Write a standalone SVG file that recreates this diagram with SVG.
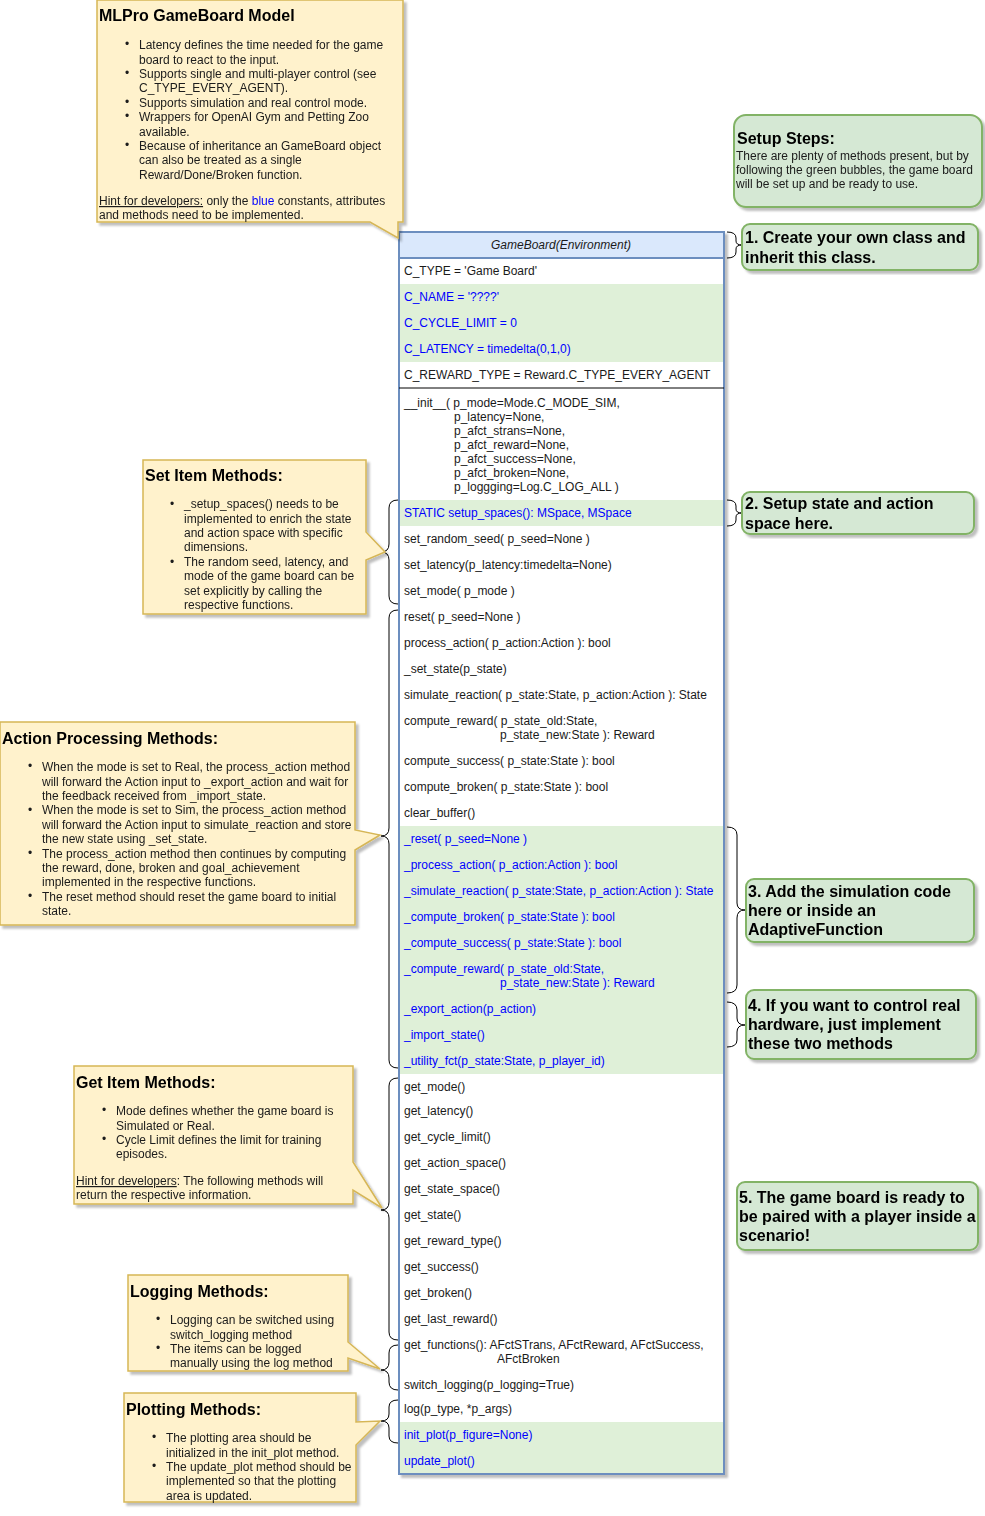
<svg xmlns="http://www.w3.org/2000/svg" width="985" height="1516" viewBox="0 0 985 1516">
<style>
text{font-family:"Liberation Sans",Arial,sans-serif;fill:#1a1a1a}
.m{font-size:12px}
.b{fill:#0000ff}
.n{font-size:12px;fill:#333}
.t{font-size:16px;font-weight:bold;fill:#000}
.s{font-size:16px;font-weight:bold;fill:#000}
.note{fill:#fff2cc;stroke:#d6b656;stroke-width:1.5}
.step{fill:#d5e8d4;stroke:#82b366;stroke-width:2}
.br{fill:none;stroke:#000;stroke-width:1}
.g{fill:#dff0d8}
</style>
<defs>
<filter id="sh" x="-5%" y="-5%" width="115%" height="115%"><feDropShadow dx="3" dy="3" stdDeviation="1.2" flood-color="#000" flood-opacity="0.25"/></filter>
</defs>

<g id="class-gameboard">
<rect x="399" y="232" width="325" height="1242" fill="#fff" stroke="#6c8ebf" stroke-width="2" filter="url(#sh)"/>
<rect class="g" x="400" y="284" width="323" height="78"/>
<rect class="g" x="400" y="500" width="323" height="26"/>
<rect class="g" x="400" y="826" width="323" height="248"/>
<rect class="g" x="400" y="1422" width="323" height="51"/>
<rect x="399" y="232" width="325" height="26" fill="#dae8fc" stroke="#6c8ebf" stroke-width="2"/>
<text x="561" y="249" class="m" text-anchor="middle" font-style="italic">GameBoard(Environment)</text>
<line x1="399" y1="388" x2="724" y2="388" stroke="#000"/>
<g class="m">
<text x="404" y="275">C_TYPE = 'Game Board'</text>
<text x="404" y="301" class="b">C_NAME = '????'</text>
<text x="404" y="327" class="b">C_CYCLE_LIMIT = 0</text>
<text x="404" y="353" class="b">C_LATENCY = timedelta(0,1,0)</text>
<text x="404" y="379">C_REWARD_TYPE = Reward.C_TYPE_EVERY_AGENT</text>
<text x="404" y="407">__init__( p_mode=Mode.C_MODE_SIM,</text>
<text x="454" y="421">p_latency=None,</text>
<text x="454" y="435">p_afct_strans=None,</text>
<text x="454" y="449">p_afct_reward=None,</text>
<text x="454" y="463">p_afct_success=None,</text>
<text x="454" y="477">p_afct_broken=None,</text>
<text x="454" y="491">p_loggging=Log.C_LOG_ALL )</text>
<text x="404" y="517" class="b">STATIC setup_spaces(): MSpace, MSpace</text>
<text x="404" y="543">set_random_seed( p_seed=None )</text>
<text x="404" y="569">set_latency(p_latency:timedelta=None)</text>
<text x="404" y="595">set_mode( p_mode )</text>
<text x="404" y="621">reset( p_seed=None )</text>
<text x="404" y="647">process_action( p_action:Action ): bool</text>
<text x="404" y="673">_set_state(p_state)</text>
<text x="404" y="699">simulate_reaction( p_state:State, p_action:Action ): State</text>
<text x="404" y="725">compute_reward( p_state_old:State,</text>
<text x="500" y="739">p_state_new:State ): Reward</text>
<text x="404" y="765">compute_success( p_state:State ): bool</text>
<text x="404" y="791">compute_broken( p_state:State ): bool</text>
<text x="404" y="817">clear_buffer()</text>
<text x="404" y="843" class="b">_reset( p_seed=None )</text>
<text x="404" y="869" class="b">_process_action( p_action:Action ): bool</text>
<text x="404" y="895" class="b">_simulate_reaction( p_state:State, p_action:Action ): State</text>
<text x="404" y="921" class="b">_compute_broken( p_state:State ): bool</text>
<text x="404" y="947" class="b">_compute_success( p_state:State ): bool</text>
<text x="404" y="973" class="b">_compute_reward( p_state_old:State,</text>
<text x="500" y="987" class="b">p_state_new:State ): Reward</text>
<text x="404" y="1013" class="b">_export_action(p_action)</text>
<text x="404" y="1039" class="b">_import_state()</text>
<text x="404" y="1065" class="b">_utility_fct(p_state:State, p_player_id)</text>
<text x="404" y="1091">get_mode()</text>
<text x="404" y="1115">get_latency()</text>
<text x="404" y="1141">get_cycle_limit()</text>
<text x="404" y="1167">get_action_space()</text>
<text x="404" y="1193">get_state_space()</text>
<text x="404" y="1219">get_state()</text>
<text x="404" y="1245">get_reward_type()</text>
<text x="404" y="1271">get_success()</text>
<text x="404" y="1297">get_broken()</text>
<text x="404" y="1323">get_last_reward()</text>
<text x="404" y="1349">get_functions(): AFctSTrans, AFctReward, AFctSuccess,</text>
<text x="497" y="1363">AFctBroken</text>
<text x="404" y="1389">switch_logging(p_logging=True)</text>
<text x="404" y="1413">log(p_type, *p_args)</text>
<text x="404" y="1439" class="b">init_plot(p_figure=None)</text>
<text x="404" y="1465" class="b">update_plot()</text>
</g>
</g>

<g id="connectors">
<path class="br" d="M398,500 Q389,500 389,508 V544 Q389,552 381,552 Q389,552 389,560 V596 Q389,604 398,604"/>
<path class="br" d="M398,610 Q389,610 389,618 V828 Q389,836 381,836 Q389,836 389,844 V1060 Q389,1068 398,1068"/>
<path class="br" d="M398,1078 Q389,1078 389,1086 V1202 Q389,1210 381,1210 Q389,1210 389,1218 V1332 Q389,1340 398,1340"/>
<path class="br" d="M398,1345 Q389,1345 389,1353 V1362 Q389,1370 381,1370 Q389,1370 389,1378 V1382 Q389,1390 398,1390"/>
<path class="br" d="M398,1400 Q389,1400 389,1407 V1414 Q389,1421 381,1421 Q389,1421 389,1428 V1436 Q389,1443 398,1443"/>
<path class="br" d="M727,232 Q736,232 736,238 V241 Q736,245 742,245 Q736,245 736,249 V252 Q736,258 727,258"/>
<path class="br" d="M727,500 Q736,500 736,506 V509 Q736,513 742,513 Q736,513 736,517 V520 Q736,526 727,526"/>
<path class="br" d="M727,827 Q737,827 737,835 V903 Q737,910 745,910 Q737,910 737,918 V985 Q737,993 727,993"/>
<path class="br" d="M727,1002 Q737,1002 737,1010 V1018 Q737,1025 745,1025 Q737,1025 737,1032 V1040 Q737,1047 727,1047"/>
</g>

<g id="note-mlpro" filter="url(#sh)">
<path class="note" d="M97,0 H403 V222 H398 L398,238 L370,222 H97 Z"/>
<text x="99" y="21" class="t">MLPro GameBoard Model</text>
<g class="n">
<text x="125" y="48">•</text><text x="139" y="49">Latency defines the time needed for the game</text><text x="139" y="64">board to react to the input.</text>
<text x="125" y="77">•</text><text x="139" y="78">Supports single and multi-player control (see</text><text x="139" y="92">C_TYPE_EVERY_AGENT).</text>
<text x="125" y="106">•</text><text x="139" y="107">Supports simulation and real control mode.</text>
<text x="125" y="120">•</text><text x="139" y="121">Wrappers for OpenAI Gym and Petting Zoo</text><text x="139" y="136">available.</text>
<text x="125" y="149">•</text><text x="139" y="150">Because of inheritance an GameBoard object</text><text x="139" y="164">can also be treated as a single</text><text x="139" y="179">Reward/Done/Broken function.</text>
<text x="99" y="205"><tspan text-decoration="underline">Hint for developers:</tspan> only the <tspan fill="#0000ff">blue</tspan> constants, attributes</text>
<text x="99" y="219">and methods need to be implemented.</text>
</g>
</g>

<g id="note-set" filter="url(#sh)">
<path class="note" d="M143,460 H366 V532 L385,552 L366,560 V614 H143 Z"/>
<text x="145" y="481" class="t">Set Item Methods:</text>
<g class="n">
<text x="170" y="508">•</text><text x="184" y="508">_setup_spaces() needs to be</text><text x="184" y="523">implemented to enrich the state</text><text x="184" y="537">and action space with specific</text><text x="184" y="551">dimensions.</text>
<text x="170" y="566">•</text><text x="184" y="566"> The random seed, latency, and</text><text x="184" y="580">mode of the game board can be</text><text x="184" y="595">set explicitly by calling the</text><text x="184" y="609">respective functions.</text>
</g>
</g>

<g id="note-action" filter="url(#sh)">
<path class="note" d="M0,722 H355 V830 L380,835 L355,850 V925 H0 Z"/>
<text x="2" y="744" class="t">Action Processing Methods:</text>
<g class="n">
<text x="28" y="770">•</text><text x="42" y="771">When the mode is set to Real, the process_action method</text><text x="42" y="786">will forward the Action input to _export_action and wait for</text><text x="42" y="800">the feedback received from _import_state.</text>
<text x="28" y="814">•</text><text x="42" y="814">When the mode is set to Sim, the process_action method</text><text x="42" y="829">will forward the Action input to simulate_reaction and store</text><text x="42" y="843">the new state using _set_state.</text>
<text x="28" y="857">•</text><text x="42" y="858">The process_action method then continues by computing</text><text x="42" y="872">the reward, done, broken and goal_achievement</text><text x="42" y="886">implemented in the respective functions.</text>
<text x="28" y="900">•</text><text x="42" y="901">The reset method should reset the game board to initial</text><text x="42" y="915">state.</text>
</g>
</g>

<g id="note-get" filter="url(#sh)">
<path class="note" d="M74,1066 H353 V1162 L382,1208 L353,1190 V1204 H74 Z"/>
<text x="76" y="1088" class="t">Get Item Methods:</text>
<g class="n">
<text x="102" y="1114">•</text><text x="116" y="1115">Mode defines whether the game board is</text><text x="116" y="1130">Simulated or Real.</text>
<text x="102" y="1143">•</text><text x="116" y="1144">Cycle Limit defines the limit for training</text><text x="116" y="1158">episodes.</text>
<text x="76" y="1185"><tspan text-decoration="underline">Hint for developers</tspan>: The following methods will</text>
<text x="76" y="1199">return the respective information.</text>
</g>
</g>

<g id="note-logging" filter="url(#sh)">
<path class="note" d="M128,1275 H348 V1342 L380,1369 L348,1358 V1371 H128 Z"/>
<text x="130" y="1297" class="t">Logging Methods:</text>
<g class="n">
<text x="156" y="1323">•</text><text x="170" y="1324">Logging can be switched using</text><text x="170" y="1339">switch_logging method</text>
<text x="156" y="1352">•</text><text x="170" y="1353">The items can be logged</text><text x="170" y="1367">manually using the log method</text>
</g>
</g>

<g id="note-plotting" filter="url(#sh)">
<path class="note" d="M124,1393 H356 V1422 L380,1421 L356,1445 V1502 H124 Z"/>
<text x="126" y="1415" class="t">Plotting Methods:</text>
<g class="n">
<text x="152" y="1441">•</text><text x="166" y="1442">The plotting area should be</text><text x="166" y="1457">initialized in the init_plot method.</text>
<text x="152" y="1470">•</text><text x="166" y="1471">The update_plot method should be</text><text x="166" y="1485">implemented so that the plotting</text><text x="166" y="1500">area is updated.</text>
</g>
</g>

<g id="step-setup" filter="url(#sh)">
<rect class="step" x="734" y="115" width="248" height="92" rx="12"/>
<text x="737" y="144" class="s">Setup Steps:</text>
<text x="736" y="160" style="font-size:12px">There are plenty of methods present, but by</text>
<text x="736" y="174" style="font-size:12px">following the green bubbles, the game board</text>
<text x="736" y="188" style="font-size:12px">will be set up and be ready to use.</text>
</g>
<g id="step-1" filter="url(#sh)">
<rect class="step" x="742" y="224" width="236" height="46" rx="8"/>
<text x="745" y="243" class="s">1. Create your own class and</text>
<text x="745" y="263" class="s">inherit this class.</text>
</g>
<g id="step-2" filter="url(#sh)">
<rect class="step" x="742" y="492" width="232" height="42" rx="8"/>
<text x="745" y="509" class="s">2. Setup state and action</text>
<text x="745" y="529" class="s">space here.</text>
</g>
<g id="step-3" filter="url(#sh)">
<rect class="step" x="746" y="879" width="228" height="63" rx="8"/>
<text x="748" y="897" class="s">3. Add the simulation code</text>
<text x="748" y="916" class="s">here or inside  an</text>
<text x="748" y="935" class="s">AdaptiveFunction</text>
</g>
<g id="step-4" filter="url(#sh)">
<rect class="step" x="746" y="990" width="230" height="69" rx="8"/>
<text x="748" y="1011" class="s">4. If you want to control real</text>
<text x="748" y="1030" class="s">hardware, just implement</text>
<text x="748" y="1049" class="s">these two methods</text>
</g>
<g id="step-5" filter="url(#sh)">
<rect class="step" x="737" y="1182" width="241" height="68" rx="8"/>
<text x="739" y="1203" class="s">5. The game board is ready to</text>
<text x="739" y="1222" class="s">be paired with a player inside a</text>
<text x="739" y="1241" class="s">scenario!</text>
</g>
</svg>
